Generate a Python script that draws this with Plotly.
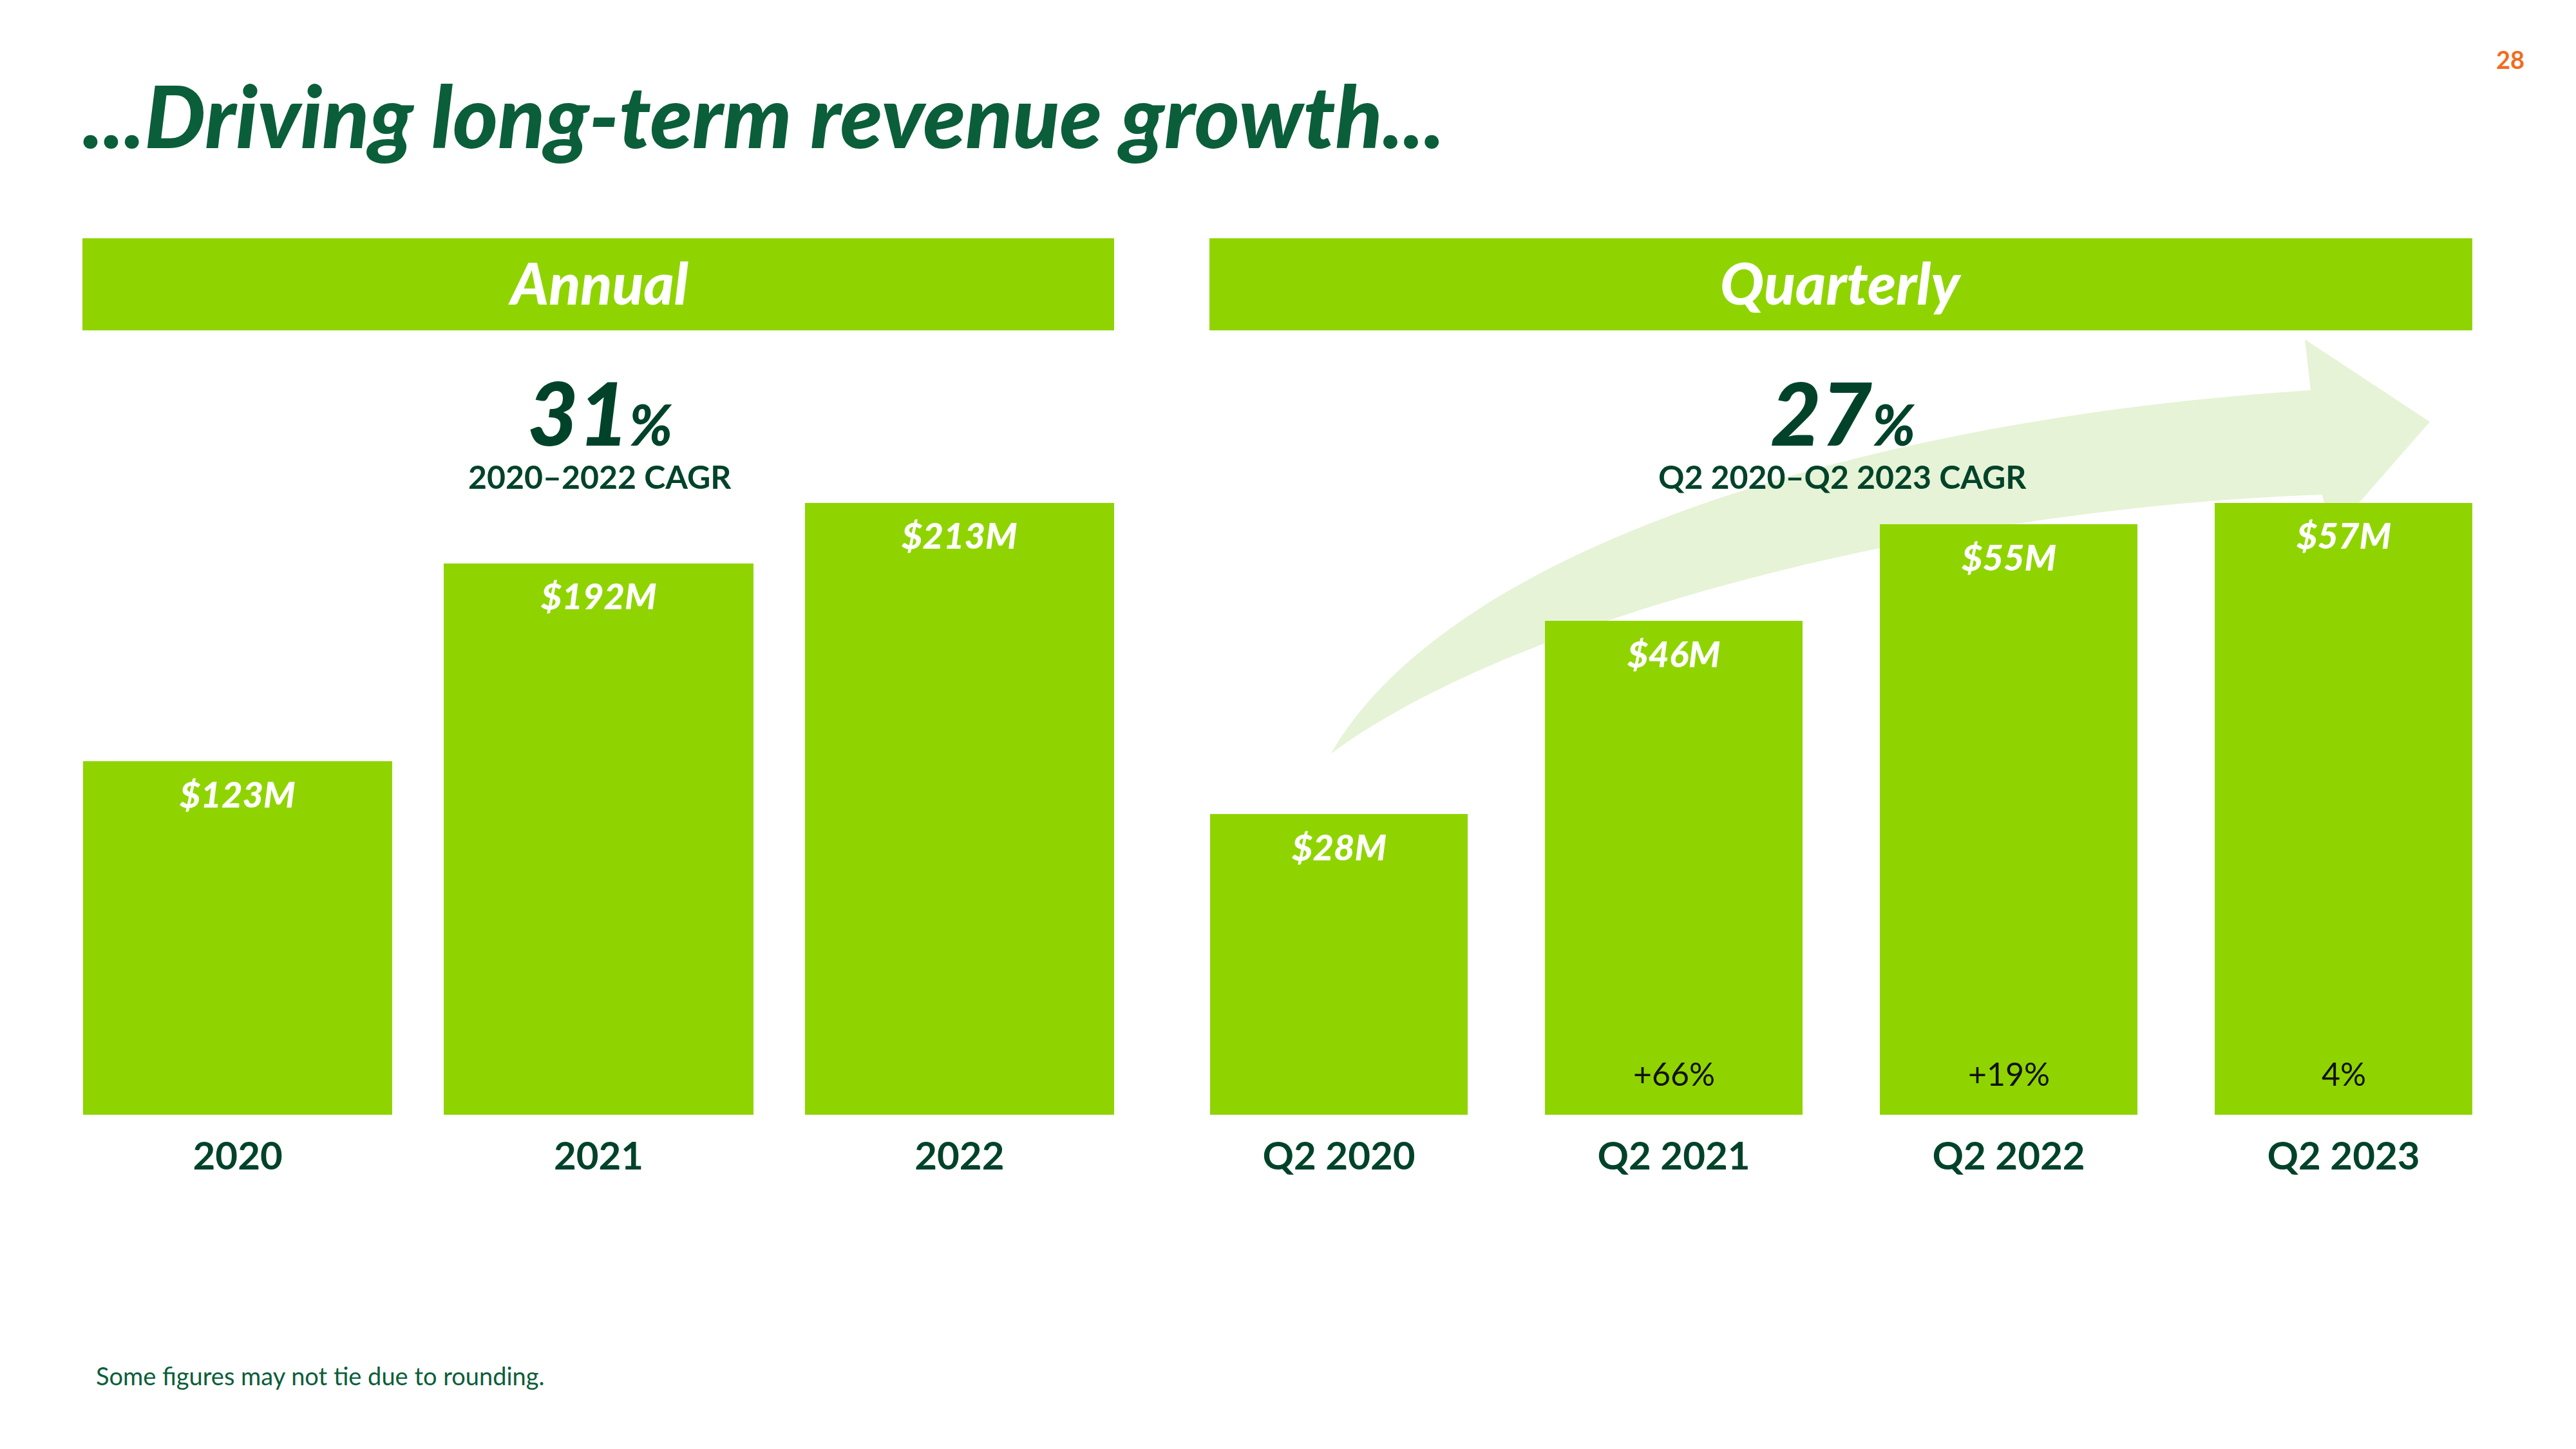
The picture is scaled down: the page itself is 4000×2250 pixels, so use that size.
import plotly.graph_objects as go

# ---------------- data ----------------
annual_cats = ["2020", "2021", "2022"]
annual_vals = [123, 192, 213]
annual_labels = ["$123M", "$192M", "$213M"]

quarter_cats = ["Q2 2020", "Q2 2021", "Q2 2022", "Q2 2023"]
quarter_vals = [28, 46, 55, 57]
quarter_labels = ["$28M", "$46M", "$55M", "$57M"]
quarter_growth = ["", "+66%", "+19%", "4%"]

annual_cagr = "31"
annual_cagr_caption = "2020–2022 CAGR"
quarter_cagr = "27"
quarter_cagr_caption = "Q2 2020–Q2 2023 CAGR"

title_text = "...Driving long-term revenue growth..."
footnote = "Some figures may not tie due to rounding."
page_no = "28"

# ---------------- style ----------------
OFF = 8  # default page body margin
W, H = 4000 - OFF, 2250 - OFF
BAR = "#8FD400"
DARK = "#00432A"
TITLE_GREEN = "#0B5E3A"
ARROW = "#E6F3D6"
ORANGE = "#F26B1D"
FONT = "Lato"


def px(x):
    return (x - OFF) / W


def py(y):
    return 1 - (y - OFF) / H


plot_bottom, plot_top = 1731, 781
ann_dom = [px(129), px(1730)]
q_dom = [px(1879), px(3839)]
ann_w = 480 / 560
q_w = 400 / 520

fig = go.Figure()
fig.add_trace(go.Bar(x=annual_cats, y=annual_vals, width=ann_w,
                     marker=dict(color=BAR, line=dict(width=0)),
                     xaxis="x", yaxis="y", hoverinfo="skip"))
fig.add_trace(go.Bar(x=quarter_cats, y=quarter_vals, width=q_w,
                     marker=dict(color=BAR, line=dict(width=0)),
                     xaxis="x2", yaxis="y2", hoverinfo="skip"))

tickfont = dict(family=FONT, size=60, color=DARK, weight=700)
fig.update_layout(
    width=W, height=H, margin=dict(l=0, r=0, t=0, b=0),
    paper_bgcolor="white", plot_bgcolor="rgba(0,0,0,0)",
    showlegend=False, bargap=0,
    xaxis=dict(domain=ann_dom, type="category",
               range=[-ann_w / 2, len(annual_cats) - 1 + ann_w / 2],
               showline=False, showgrid=False, zeroline=False,
               ticks="", tickfont=tickfont, ticklabelstandoff=24, anchor="y"),
    yaxis=dict(domain=[py(plot_bottom), py(plot_top)], range=[0, max(annual_vals)],
               visible=False, anchor="x"),
    xaxis2=dict(domain=q_dom, type="category",
                range=[-q_w / 2, len(quarter_cats) - 1 + q_w / 2],
                showline=False, showgrid=False, zeroline=False,
                ticks="", tickfont=tickfont, ticklabelstandoff=24, anchor="y2"),
    yaxis2=dict(domain=[py(plot_bottom), py(plot_top)], range=[0, max(quarter_vals)],
                visible=False, anchor="x2"),
)

shapes = []
# header bands
shapes.append(dict(type="rect", xref="paper", yref="paper", x0=px(128), x1=px(1730),
                   y0=py(513), y1=py(370), fillcolor=BAR, line=dict(width=0), layer="below"))
shapes.append(dict(type="rect", xref="paper", yref="paper", x0=px(1878), x1=px(3839),
                   y0=py(513), y1=py(370), fillcolor=BAR, line=dict(width=0), layer="below"))


# decorative growth arrow (pixel outline -> paper)
def P(x, y):
    return f"{px(x):.5f},{py(y):.5f}"


arrow_path = (
    "M " + P(2067, 1170)
    + " C " + P(2250, 850) + " " + P(2900, 650) + " " + P(3588, 606)
    + " L " + P(3579, 527)
    + " L " + P(3773, 655)
    + " L " + P(3620, 830)
    + " L " + P(3606, 768)
    + " C " + P(3000, 790) + " " + P(2350, 960) + " " + P(2067, 1170)
    + " Z"
)
shapes.append(dict(type="path", xref="paper", yref="paper", path=arrow_path,
                   fillcolor=ARROW, line=dict(width=0), layer="below"))
fig.update_layout(shapes=shapes)

ann = []
# title
ann.append(dict(text=title_text, x=px(126), y=py(178), xref="paper", yref="paper",
                xanchor="left", yanchor="middle", showarrow=False,
                font=dict(family=FONT, size=134, color=TITLE_GREEN, weight=900, style="italic")))
# page number
ann.append(dict(text=page_no, x=px(3898), y=py(92), xref="paper", yref="paper",
                xanchor="center", yanchor="middle", showarrow=False,
                font=dict(family=FONT, size=38, color=ORANGE, weight=700)))
# headers
for label, cx in [("Annual", (128 + 1730) / 2), ("Quarterly", (1878 + 3839) / 2)]:
    ann.append(dict(text=label, x=px(cx), y=py(438), xref="paper", yref="paper",
                    xanchor="center", yanchor="middle", showarrow=False,
                    font=dict(family=FONT, size=90, color="white", weight=900, style="italic")))
# CAGR blocks
for big, cap, cx in [(annual_cagr, annual_cagr_caption, 931), (quarter_cagr, quarter_cagr_caption, 2861)]:
    ann.append(dict(text=big + "<span style='font-size:88px'>%</span>", x=px(cx), y=py(640),
                    xref="paper", yref="paper", xanchor="center", yanchor="middle", showarrow=False,
                    font=dict(family=FONT, size=136, color=DARK, weight=900, style="italic")))
    ann.append(dict(text=cap, x=px(cx), y=py(740), xref="paper", yref="paper",
                    xanchor="center", yanchor="middle", showarrow=False,
                    font=dict(family=FONT, size=50, color=DARK, weight=700)))
# value labels inside bars (category index positions)
for cats, vals, labels, xr, yr in [(annual_cats, annual_vals, annual_labels, "x", "y"),
                                   (quarter_cats, quarter_vals, quarter_labels, "x2", "y2")]:
    for i, (v, t) in enumerate(zip(vals, labels)):
        ann.append(dict(text=t, x=i, y=v, xref=xr, yref=yr, xanchor="center", yanchor="middle",
                        yshift=-50, showarrow=False,
                        font=dict(family=FONT, size=56, color="white", weight=900, style="italic")))
# growth labels
for i, g in enumerate(quarter_growth):
    if g:
        ann.append(dict(text=g, x=i, y=0, xref="x2", yref="y2", xanchor="center", yanchor="middle",
                        yshift=64, showarrow=False,
                        font=dict(family=FONT, size=50, color="#111111")))
# footnote
ann.append(dict(text=footnote, x=px(147), y=py(2136), xref="paper", yref="paper",
                xanchor="left", yanchor="middle", showarrow=False,
                font=dict(family=FONT, size=38, color=TITLE_GREEN)))
fig.update_layout(annotations=ann)

fig.write_html("out.html")
